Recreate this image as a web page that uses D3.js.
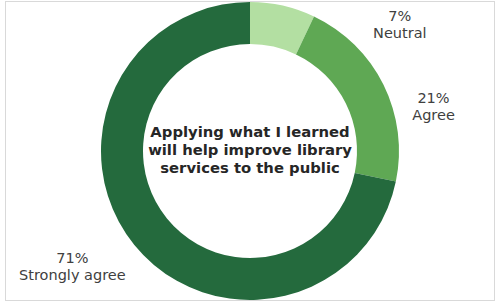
<!DOCTYPE html>
<html>
<head>
<meta charset="utf-8">
<script src="https://cdn.jsdelivr.net/npm/d3@7"></script>
<style>
  html, body { margin: 0; padding: 0; background: #fff; }
  svg { display: block; }
</style>
</head>
<body>
<div id="chart"></div>
<script>
'use strict'

// data
const categories = ['Neutral', 'Agree', 'Strongly agree']
const values = [7, 21, 71]
const colors = ['#b3dfa2', '#5fa854', '#246a3d']
const title = ['Applying what I learned', 'will help improve library', 'services to the public']
// how far each label sits from the outer edge of its slice
const labelNudge = [[117, 19], [50, 22], [-62, 22]]

const svgWidth = 496, svgHeight = 303
const cx = 250, cy = 151
const outerR = 149, innerR = 107

const svg = d3.select('#chart').append('svg')
    .attr('width', svgWidth)
    .attr('height', svgHeight)

// frame
svg.append('rect')
    .attr('x', 5.5).attr('y', 1.5)
    .attr('width', 489).attr('height', 299)
    .attr('fill', '#fff')
    .attr('stroke', '#d9d9d9')

const g = svg.append('g').attr('transform', `translate(${cx},${cy})`)

const pie = d3.pie().sort(null).value(d => d.value)
const arcs = pie(categories.map((c, i) => ({name: c, value: values[i], color: colors[i]})))

const arc = d3.arc().innerRadius(innerR).outerRadius(outerR)
const edge = d3.arc().innerRadius(outerR).outerRadius(outerR)

g.selectAll('path.slice')
    .data(arcs)
    .join('path')
    .attr('class', 'slice')
    .attr('d', arc)
    .attr('fill', d => d.data.color)

// data labels
const labels = g.selectAll('g.lbl')
    .data(arcs)
    .join('g')
    .attr('class', 'lbl')
    .attr('transform', (d, i) => {
        const p = edge.centroid(d)
        return `translate(${p[0] + labelNudge[i][0]},${p[1] + labelNudge[i][1]})`
    })
    .style('font-family', '"DejaVu Sans", Verdana, sans-serif')
    .style('font-size', '14.5px')
    .attr('fill', '#404040')
    .attr('text-anchor', 'middle')

labels.append('text')
    .attr('y', -4)
    .text(d => Math.round(d.value) + '%')
labels.append('text')
    .attr('y', 13)
    .text(d => d.data.name)

// centre title
g.append('text')
    .attr('text-anchor', 'middle')
    .style('font-family', '"DejaVu Sans", Verdana, sans-serif')
    .style('font-size', '14.8px')
    .style('font-weight', 'bold')
    .attr('fill', '#262626')
    .selectAll('tspan')
    .data(title)
    .join('tspan')
    .attr('x', 0)
    .attr('y', (d, i) => -14 + i * 18)
    .text(d => d)
</script>
</body>
</html>
